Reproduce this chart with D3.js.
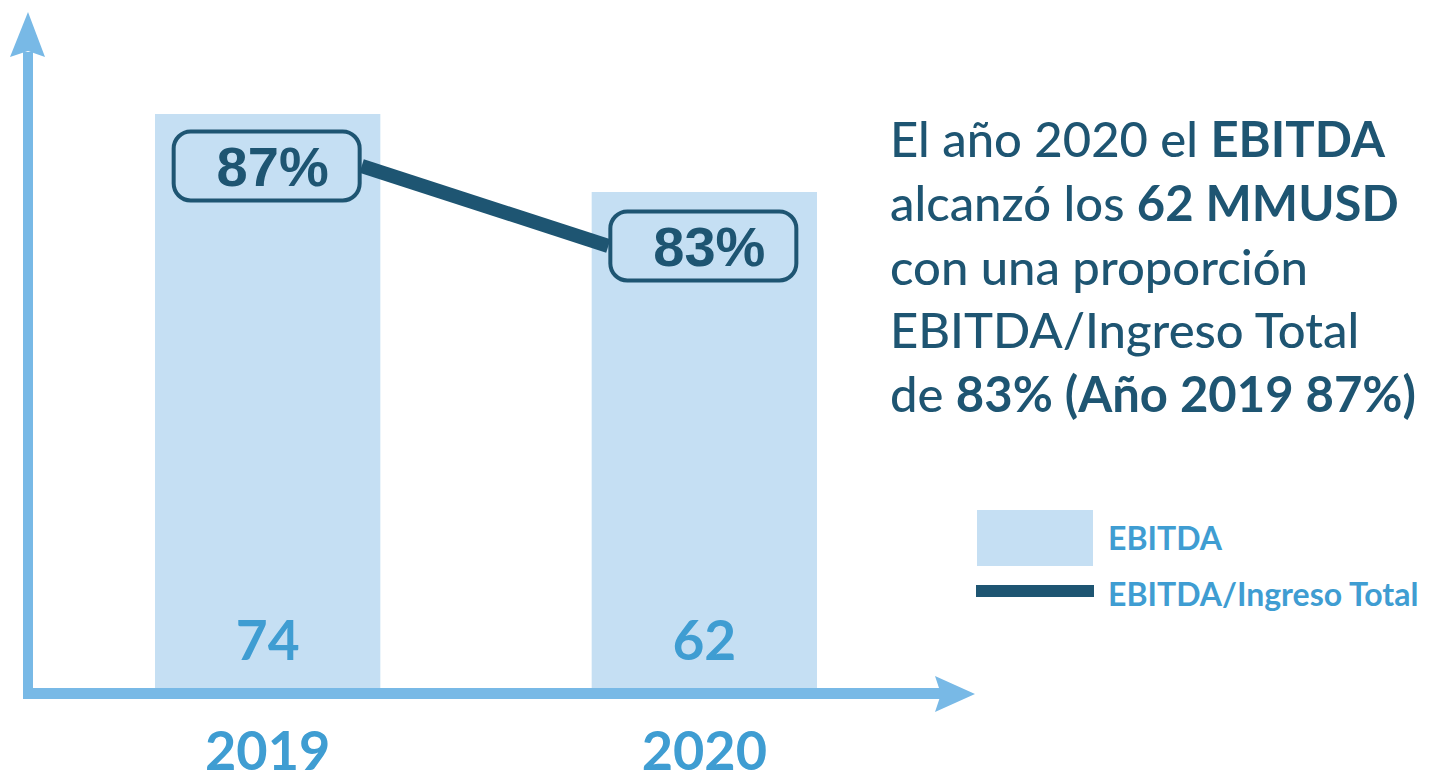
<!DOCTYPE html>
<html>
<head>
<meta charset="utf-8">
<script src="https://cdn.jsdelivr.net/npm/d3@7"></script>
<style>
  body { margin: 0; background: #fff; }
  svg { display: block; }
</style>
</head>
<body>
<script>
// datos
const years = ["2019", "2020"];
const ebitda = [74, 62];            // MMUSD
const ratio = [87, 83];             // EBITDA / Ingreso Total (%)
const legendLabels = ["EBITDA", "EBITDA/Ingreso Total"];
const noteLines = [
  [["El año 2020 el ", 500], ["EBITDA", 700]],
  [["alcanzó los ", 500], ["62 MMUSD", 700]],
  [["con una proporción", 500]],
  [["EBITDA/Ingreso Total", 500]],
  [["de ", 500], ["83% (Año 2019 87%)", 700]]
];

const width = 1435, height = 781;
const axisColor = "#78b9e6", barColor = "#c5dff3", dark = "#1e5572", blue = "#3f9dd2";
const font = "Lato, 'Open Sans', sans-serif";

const svg = d3.select("body").append("svg")
  .attr("width", width)
  .attr("height", height);

// escalas
const x = d3.scaleBand().domain(years).range([155, 817]).paddingInner(0.484);
const y = d3.scaleLinear().domain([-14.3, 74]).range([688, 114]);
const yPct = d3.scaleLinear().domain([83, 87]).range([246, 166]);

// barras
svg.selectAll("rect.bar")
  .data(years)
  .join("rect")
  .attr("class", "bar")
  .attr("x", d => x(d))
  .attr("width", x.bandwidth())
  .attr("y", (d, i) => y(ebitda[i]))
  .attr("height", (d, i) => y(-14.3) - y(ebitda[i]))
  .attr("fill", barColor);

// valores de barras
svg.selectAll("text.val")
  .data(years)
  .join("text")
  .attr("class", "val")
  .attr("x", d => x(d) + x.bandwidth() / 2)
  .attr("y", 660)
  .attr("text-anchor", "middle")
  .attr("font-family", font)
  .attr("font-weight", 700)
  .attr("font-size", 55)
  .attr("fill", blue)
  .text((d, i) => ebitda[i]);

// ejes con flechas
svg.append("rect").attr("x", 23).attr("y", 52).attr("width", 10).attr("height", 647).attr("fill", axisColor);
svg.append("path").attr("d", "M28,12 L45,57 L28,51 L10,57 Z").attr("fill", axisColor);
svg.append("rect").attr("x", 23).attr("y", 688).attr("width", 925).attr("height", 11).attr("fill", axisColor);
svg.append("path").attr("d", "M975,694 L935,676 L941,694 L935,712 Z").attr("fill", axisColor);

// etiquetas de años
svg.selectAll("text.year")
  .data(years)
  .join("text")
  .attr("class", "year")
  .attr("x", d => x(d) + x.bandwidth() / 2)
  .attr("y", 770)
  .attr("text-anchor", "middle")
  .attr("font-family", font)
  .attr("font-weight", 700)
  .attr("font-size", 54)
  .attr("fill", blue)
  .text(d => d);

// linea de proporcion entre cajas
const boxW = 190, boxH = 73;
const cx = d => x(d) + x.bandwidth() / 2 - 1;
svg.append("line")
  .attr("x1", cx(years[0]) + boxW / 2)
  .attr("y1", yPct(ratio[0]))
  .attr("x2", cx(years[1]) - boxW / 2)
  .attr("y2", yPct(ratio[1]))
  .attr("stroke", dark)
  .attr("stroke-width", 14);

const boxes = svg.selectAll("g.box")
  .data(years)
  .join("g")
  .attr("class", "box")
  .attr("transform", (d, i) => `translate(${cx(d)},${yPct(ratio[i])})`);
boxes.append("rect")
  .attr("x", -boxW / 2 + 2)
  .attr("y", -boxH / 2 + 2)
  .attr("width", boxW - 4)
  .attr("height", boxH - 4)
  .attr("rx", 17)
  .attr("fill", barColor)
  .attr("stroke", dark)
  .attr("stroke-width", 4);
boxes.append("text")
  .attr("x", 6)
  .attr("y", 20)
  .attr("text-anchor", "middle")
  .attr("font-family", "'Liberation Sans', Arial, sans-serif")
  .attr("font-weight", 700)
  .attr("font-size", 56)
  .attr("fill", dark)
  .text((d, i) => ratio[i] + "%");

// texto de comentario
const note = svg.append("text")
  .attr("font-family", font)
  .attr("font-size", 49)
  .attr("fill", dark);
noteLines.forEach((line, i) => {
  line.forEach(([t, w], j) => {
    const ts = note.append("tspan").attr("font-weight", w).text(t);
    if (j === 0) ts.attr("x", 890).attr("y", 157 + i * 63.8);
  });
});

// leyenda
svg.append("rect").attr("x", 977).attr("y", 510).attr("width", 116).attr("height", 56).attr("fill", barColor);
svg.append("line").attr("x1", 976).attr("x2", 1094).attr("y1", 591).attr("y2", 591)
  .attr("stroke", dark).attr("stroke-width", 12);
svg.selectAll("text.leg")
  .data(legendLabels)
  .join("text")
  .attr("class", "leg")
  .attr("x", 1108)
  .attr("y", (d, i) => 550 + i * 56)
  .attr("font-family", font)
  .attr("font-weight", 700)
  .attr("font-size", 32)
  .attr("fill", blue)
  .text(d => d);
</script>
</body>
</html>
